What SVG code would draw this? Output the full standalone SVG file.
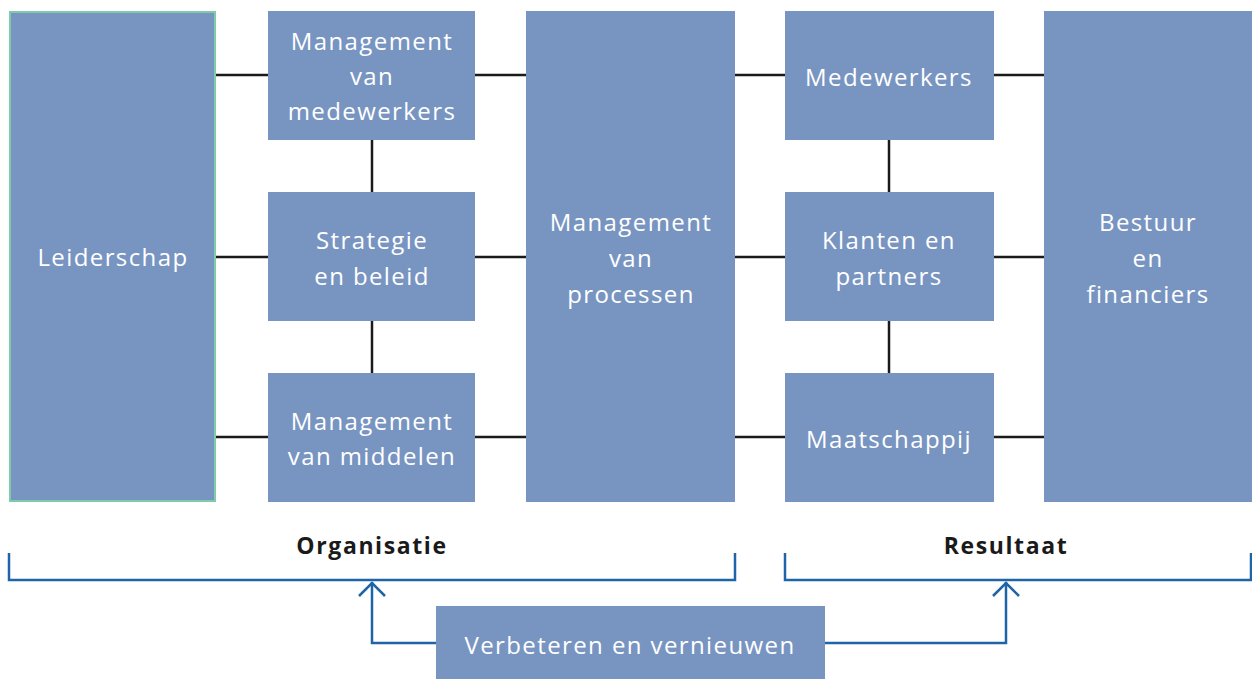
<svg xmlns="http://www.w3.org/2000/svg" width="1252" height="679" viewBox="0 0 1252 679">
<style>
.box{fill:#7895c2}
.t{font-family:"Open Sans","Liberation Sans",sans-serif;font-size:24px;fill:#ffffff;text-anchor:middle;letter-spacing:1.4px}
.h{font-family:"Open Sans","Liberation Sans",sans-serif;font-size:23px;font-weight:bold;fill:#1a1a1a;text-anchor:middle;letter-spacing:1.6px}
.c{stroke:#1a1a1a;stroke-width:2.5;fill:none}
.b{stroke:#1f64a6;stroke-width:2.5;fill:none}
</style>
<rect width="1252" height="679" fill="#ffffff"/>
<g id="connectors">
<line class="c" x1="216" y1="75" x2="268" y2="75"/>
<line class="c" x1="216" y1="257" x2="268" y2="257"/>
<line class="c" x1="216" y1="437" x2="268" y2="437"/>
<line class="c" x1="475" y1="75" x2="526" y2="75"/>
<line class="c" x1="475" y1="257" x2="526" y2="257"/>
<line class="c" x1="475" y1="437" x2="526" y2="437"/>
<line class="c" x1="735" y1="75" x2="785" y2="75"/>
<line class="c" x1="735" y1="257" x2="785" y2="257"/>
<line class="c" x1="735" y1="437" x2="785" y2="437"/>
<line class="c" x1="994" y1="75" x2="1044" y2="75"/>
<line class="c" x1="994" y1="257" x2="1044" y2="257"/>
<line class="c" x1="994" y1="437" x2="1044" y2="437"/>
<line class="c" x1="372" y1="140" x2="372" y2="192"/>
<line class="c" x1="372" y1="321" x2="372" y2="373"/>
<line class="c" x1="889" y1="140" x2="889" y2="192"/>
<line class="c" x1="889" y1="321" x2="889" y2="373"/>
<path class="b" d="M9 553 V580 H735 V553"/>
<path class="b" d="M785 553 V580 H1251 V553"/>
<path class="b" d="M436 643 H372 V582"/>
<path class="b" d="M359 596 L372 583 L385 596"/>
<path class="b" d="M825 643 H1006 V582"/>
<path class="b" d="M993 596 L1006 583 L1019 596"/>
</g>
<g id="leiderschap">
<rect class="box" x="10" y="12" width="205" height="489" stroke="#7fcaa9" stroke-width="2"/>
<text class="t" x="113" y="266">Leiderschap</text>
</g>
<g id="mgmt-medewerkers">
<rect class="box" x="268" y="11" width="207" height="129"/>
<text class="t" x="372" y="50">Management</text>
<text class="t" x="372" y="85">van</text>
<text class="t" x="372" y="120">medewerkers</text>
</g>
<g id="strategie">
<rect class="box" x="268" y="192" width="207" height="129"/>
<text class="t" x="372" y="249">Strategie</text>
<text class="t" x="372" y="285">en beleid</text>
</g>
<g id="mgmt-middelen">
<rect class="box" x="268" y="373" width="207" height="129"/>
<text class="t" x="372" y="430">Management</text>
<text class="t" x="372" y="465">van middelen</text>
</g>
<g id="mgmt-processen">
<rect class="box" x="526" y="11" width="209" height="491"/>
<text class="t" x="631" y="231">Management</text>
<text class="t" x="631" y="267">van</text>
<text class="t" x="631" y="303">processen</text>
</g>
<g id="medewerkers">
<rect class="box" x="785" y="11" width="209" height="129"/>
<text class="t" x="889" y="86">Medewerkers</text>
</g>
<g id="klanten">
<rect class="box" x="785" y="192" width="209" height="129"/>
<text class="t" x="889" y="249">Klanten en</text>
<text class="t" x="889" y="285">partners</text>
</g>
<g id="maatschappij">
<rect class="box" x="785" y="373" width="209" height="129"/>
<text class="t" x="889" y="448">Maatschappij</text>
</g>
<g id="bestuur">
<rect class="box" x="1044" y="11" width="208" height="491"/>
<text class="t" x="1148" y="231">Bestuur</text>
<text class="t" x="1148" y="267">en</text>
<text class="t" x="1148" y="303">financiers</text>
</g>
<g id="organisatie">
<text class="h" x="372" y="554">Organisatie</text>
</g>
<g id="resultaat">
<text class="h" x="1006" y="554">Resultaat</text>
</g>
<g id="verbeteren">
<rect class="box" x="436" y="606" width="389" height="73"/>
<text class="t" x="630" y="654">Verbeteren en vernieuwen</text>
</g>
</svg>
